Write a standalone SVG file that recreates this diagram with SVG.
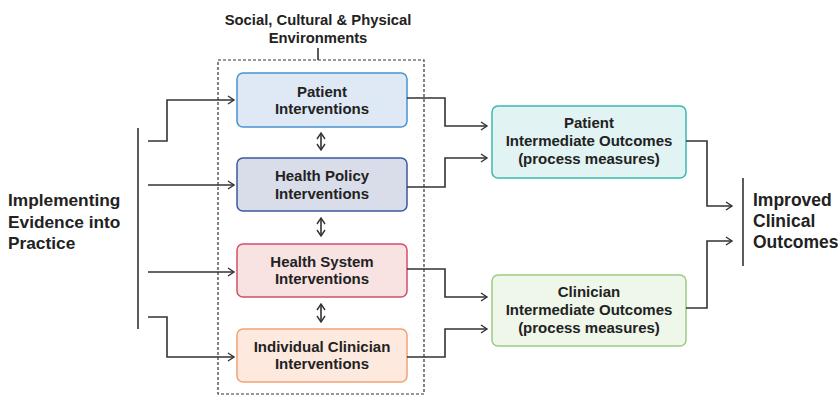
<svg xmlns="http://www.w3.org/2000/svg" width="838" height="397" viewBox="0 0 838 397">
  <style>
    .t { font-family: "Liberation Sans", Arial, sans-serif; font-weight: bold; fill: #222; }
    .box { font-size: 15px; text-anchor: middle; }
    .big { font-size: 17.3px; }
    .line { fill: none; stroke: #333; stroke-width: 1.6; }
  </style>
  <defs>
    <marker id="arr" markerWidth="10" markerHeight="10" refX="7" refY="5" orient="auto" markerUnits="userSpaceOnUse">
      <path d="M1,1 L7,5 L1,9" fill="none" stroke="#333" stroke-width="1.4"/>
    </marker>
    <marker id="arrStart" markerWidth="10" markerHeight="10" refX="7" refY="5" orient="auto-start-reverse" markerUnits="userSpaceOnUse">
      <path d="M1,1 L7,5 L1,9" fill="none" stroke="#333" stroke-width="1.4"/>
    </marker>
  </defs>
  <rect width="838" height="397" fill="#fff"/>

  <!-- environment frame -->
  <g id="environment">
    <text class="t" font-size="14.8" text-anchor="middle" x="318" y="25">Social, Cultural &amp; Physical</text>
    <text class="t" font-size="14.8" text-anchor="middle" x="318" y="43">Environments</text>
    <line x1="318" y1="48" x2="318" y2="60" stroke="#333" stroke-width="1.6"/>
    <rect x="218" y="60" width="206" height="334" fill="none" stroke="#333" stroke-width="1.2" stroke-dasharray="3,2"/>
  </g>

  <g id="implementing">
    <text class="t big" x="8" y="206">Implementing</text>
    <text class="t big" x="8" y="228">Evidence into</text>
    <text class="t big" x="8" y="249">Practice</text>
  </g>

  <g id="patient-interventions">
    <rect x="237" y="73" width="170" height="54" rx="6" fill="#dfe9f6" stroke="#4a92d2" stroke-width="1.5"/>
    <text class="t box" x="322" y="97">Patient</text>
    <text class="t box" x="322" y="114">Interventions</text>
  </g>
  <g id="health-policy-interventions">
    <rect x="237" y="158" width="170" height="53" rx="6" fill="#d9dde9" stroke="#3a5a9c" stroke-width="1.5"/>
    <text class="t box" x="322" y="181">Health Policy</text>
    <text class="t box" x="322" y="199">Interventions</text>
  </g>
  <g id="health-system-interventions">
    <rect x="237" y="244" width="170" height="53" rx="6" fill="#f8e2e2" stroke="#d2506a" stroke-width="1.5"/>
    <text class="t box" x="322" y="267">Health System</text>
    <text class="t box" x="322" y="284">Interventions</text>
  </g>
  <g id="individual-clinician-interventions">
    <rect x="237" y="329" width="170" height="53" rx="6" fill="#fde9de" stroke="#f2a275" stroke-width="1.5"/>
    <text class="t box" x="322" y="352">Individual Clinician</text>
    <text class="t box" x="322" y="369">Interventions</text>
  </g>

  <g id="patient-outcomes">
    <rect x="492" y="106" width="194" height="72" rx="6" fill="#e1f3f2" stroke="#3cb9b1" stroke-width="1.5"/>
    <text class="t box" x="589" y="128">Patient</text>
    <text class="t box" x="589" y="146">Intermediate Outcomes</text>
    <text class="t box" x="589" y="164">(process measures)</text>
  </g>
  <g id="clinician-outcomes">
    <rect x="492" y="275" width="194" height="71" rx="6" fill="#eff7ea" stroke="#9acd82" stroke-width="1.5"/>
    <text class="t box" x="589" y="297">Clinician</text>
    <text class="t box" x="589" y="315">Intermediate Outcomes</text>
    <text class="t box" x="589" y="333">(process measures)</text>
  </g>

  <g id="improved-outcomes">
    <text class="t" font-size="17.5" x="753" y="206">Improved</text>
    <text class="t" font-size="17.5" x="753" y="227">Clinical</text>
    <text class="t" font-size="17.5" x="753" y="248">Outcomes</text>
  </g>

  <g id="connectors">
    <!-- left bracket and feeds -->
    <line class="line" x1="138" y1="128" x2="138" y2="329"/>
    <path class="line" d="M148,141 H167 V100 H234" marker-end="url(#arr)"/>
    <path class="line" d="M148,185 H234" marker-end="url(#arr)"/>
    <path class="line" d="M148,272 H234" marker-end="url(#arr)"/>
    <path class="line" d="M148,317 H167 V357 H234" marker-end="url(#arr)"/>

    <!-- links between interventions -->
    <line class="line" x1="321" y1="133" x2="321" y2="150" marker-start="url(#arrStart)" marker-end="url(#arr)"/>
    <line class="line" x1="321" y1="218" x2="321" y2="236" marker-start="url(#arrStart)" marker-end="url(#arr)"/>
    <line class="line" x1="321" y1="304" x2="321" y2="322" marker-start="url(#arrStart)" marker-end="url(#arr)"/>

    <!-- interventions to intermediate outcomes -->
    <path class="line" d="M407,98 H445 V126 H487" marker-end="url(#arr)"/>
    <path class="line" d="M407,187 H445 V158 H487" marker-end="url(#arr)"/>
    <path class="line" d="M407,269 H445 V297 H487" marker-end="url(#arr)"/>
    <path class="line" d="M407,357 H445 V329 H487" marker-end="url(#arr)"/>

    <!-- intermediate outcomes to improved outcomes -->
    <path class="line" d="M686,141 H707 V206 H732" marker-end="url(#arr)"/>
    <path class="line" d="M686,308 H707 V241 H732" marker-end="url(#arr)"/>
    <line class="line" x1="743" y1="178" x2="743" y2="266"/>
  </g>
</svg>
